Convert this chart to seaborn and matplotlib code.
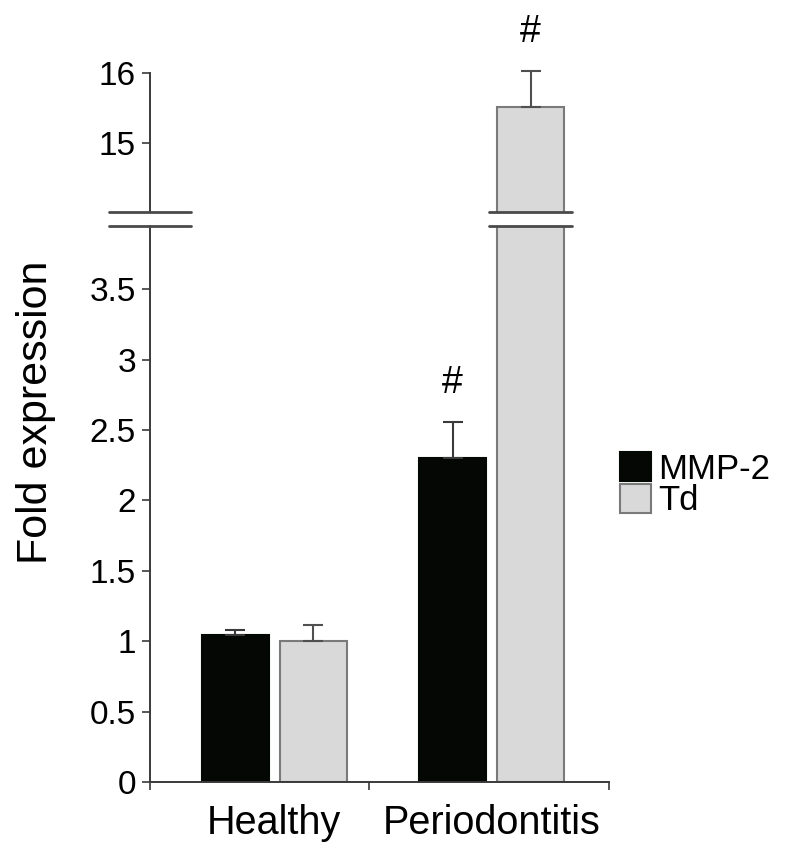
import matplotlib
matplotlib.use('Agg')
import matplotlib.pyplot as plt
import matplotlib.transforms as mtransforms
import numpy as np
import pandas as pd
import seaborn as sns

# 数据
groups = ['Healthy', 'Periodontitis']
genes = ['MMP-2', 'Td']
mmp2_mean = [1.045, 2.30]
mmp2_err = [0.035, 0.26]
td_mean = [1.00, 15.51]
td_err = [0.115, 0.52]
significant = {'MMP-2': [False, True], 'Td': [False, True]}

bottom_ticks = [0, 0.5, 1, 1.5, 2, 2.5, 3, 3.5]
top_ticks = [15, 16]

df = pd.DataFrame({
    'group': groups * 2,
    'gene': [genes[0]] * 2 + [genes[1]] * 2,
    'value': mmp2_mean + td_mean,
})
errors = {'MMP-2': mmp2_err, 'Td': td_err}

sns.set_theme(style='white')
plt.rcParams['font.family'] = ['Liberation Sans', 'DejaVu Sans']
plt.rcParams['text.color'] = 'black'
plt.rcParams['xtick.color'] = 'black'
plt.rcParams['ytick.color'] = 'black'

face = {'MMP-2': '#030803', 'Td': '#d9d9d9'}
edge = {'MMP-2': '#030803', 'Td': '#7a7a7a'}
axis_color = '#3a3a3a'

fig = plt.figure(figsize=(8, 8.58), dpi=100)
ax_top = fig.add_axes([0.1875, 0.7533, 0.574, 0.162])
ax_bot = fig.add_axes([0.1875, 0.0886, 0.574, 0.648])
limits = {ax_top: (14.01, 16.0), ax_bot: (0, 3.95)}

for ax in (ax_top, ax_bot):
    lo, hi = limits[ax]
    sns.barplot(data=df, x='group', y='value', hue='gene', hue_order=genes,
                palette=face, errorbar=None, width=0.716, gap=0.14,
                legend=(ax is ax_bot), ax=ax)
    ax.set_ylim(lo, hi)
    for gene, cont in zip(genes, ax.containers):
        for i, patch in enumerate(cont.patches):
            patch.set_edgecolor(edge[gene])
            patch.set_linewidth(1.5)
            xc = patch.get_x() + patch.get_width() / 2
            h = patch.get_height()
            # 只在柱顶位于该坐标段内时画误差线和标记
            if not (lo <= h <= hi):
                continue
            err = errors[gene][i]
            eb = ax.errorbar(xc, h, yerr=[[0], [err]], fmt='none',
                             ecolor='#3a3a3a' if gene == 'MMP-2' else '#505050',
                             elinewidth=1.5, capsize=7, capthick=1.5, zorder=3)
            for art in eb.lines[1] + eb.lines[2]:
                art.set_clip_on(False)
            if significant[gene][i]:
                ax.annotate('#', (xc, h + err), xytext=(0, 28),
                            textcoords='offset points', ha='center', va='center',
                            fontsize=27, annotation_clip=False)
    ax.set_xlim(-0.57, 1.54)
    ax.set_xlabel('')
    ax.set_ylabel('')
    for s in ('top', 'right'):
        ax.spines[s].set_visible(False)
    ax.spines['left'].set_color(axis_color)
    ax.spines['left'].set_linewidth(1.4)
    ax.tick_params(axis='y', direction='out', length=6, width=1.2,
                   color=axis_color, labelcolor='black', labelsize=24, pad=4,
                   left=True)

# 上半部分
ax_top.set_yticks(top_ticks)
ax_top.set_yticklabels([f'{t:g}' for t in top_ticks])
ax_top.spines['bottom'].set_visible(False)
ax_top.set_xticks([])

# 下半部分
ax_bot.set_yticks(bottom_ticks)
ax_bot.set_yticklabels([f'{t:g}' for t in bottom_ticks])
ax_bot.spines['bottom'].set_color(axis_color)
ax_bot.spines['bottom'].set_linewidth(1.4)
ax_bot.set_xticks([0, 1])
ax_bot.set_xticklabels(groups)
ax_bot.set_xticks([-0.57, 0.437, 1.54], minor=True)
ax_bot.tick_params(axis='x', which='major', length=0, labelsize=28.5,
                   labelcolor='black', pad=16)
ax_bot.tick_params(axis='x', which='minor', direction='out', length=6,
                   width=1.2, color=axis_color, bottom=True)

# 断轴标记
tall = max(ax_bot.containers[1].patches, key=lambda p: p.get_height())
bar_xc = tall.get_x() + tall.get_width() / 2
for ax, yfrac in ((ax_top, 0.0), (ax_bot, 1.0)):
    tr = mtransforms.blended_transform_factory(ax.transData, ax.transAxes)
    for xc in (ax.get_xlim()[0], bar_xc):
        ax.plot([xc - 0.19, xc + 0.19], [yfrac, yfrac], transform=tr,
                color='#4a4a4a', lw=2, clip_on=False, zorder=5)

# 图例
leg = ax_bot.legend(loc='center left', bbox_to_anchor=(0.775, 0.435),
                    bbox_transform=fig.transFigure, frameon=False,
                    fontsize=25, handlelength=0.9, handleheight=0.9,
                    handletextpad=0.2, labelspacing=-0.05, borderpad=0,
                    borderaxespad=0)
for gene, h in zip(genes, leg.legend_handles):
    h.set_edgecolor(edge[gene])
    h.set_linewidth(1.5)

fig.text(0.045, 1 - 412 / 858, 'Fold expression', rotation=90,
         ha='center', va='center', fontsize=31)

fig.savefig('out.png', dpi=100, facecolor='white')
